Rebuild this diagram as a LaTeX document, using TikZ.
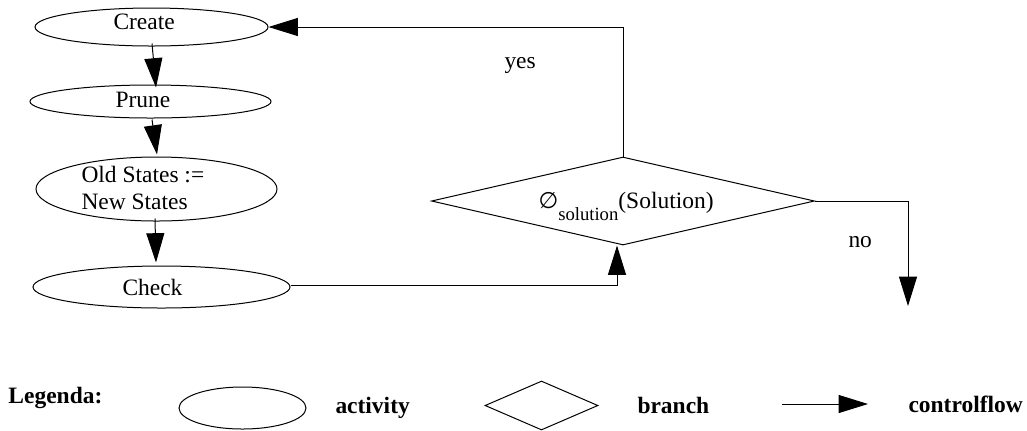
\documentclass[tikz,border=0pt]{standalone}
\usepackage{fontspec}
\setmainfont{Liberation Serif}
\newfontfamily\symfont{DejaVu Sans}
\usetikzlibrary{arrows.meta,shapes.geometric}
\begin{document}
\begin{tikzpicture}[x=0.75pt,y=-0.75pt,line width=0.75pt,
  act/.style={draw, ellipse, inner sep=0pt},
  br/.style={draw, diamond, inner sep=0pt},
  lbl/.style={anchor=base west, inner sep=0pt, font=\fontsize{17.6}{20}\selectfont},
  blbl/.style={anchor=base west, inner sep=0pt, font=\fontsize{17.6}{20}\selectfont\bfseries},
  flow/.style={-{Triangle[length=22pt,width=13.5pt]}},
]
\useasboundingbox (0,0) rectangle (1027,430);

% activities
\node[act, minimum width=174.75pt, minimum height=28.5pt] (create) at (151.5,27) {};
\node[act, minimum width=180.75pt, minimum height=24.75pt] (prune) at (150.5,101.5) {};
\node[act, minimum width=180.75pt, minimum height=48pt] (old) at (156.5,189) {};
\node[act, minimum width=192.75pt, minimum height=31.5pt] (check) at (161.5,287) {};
\node[br, minimum width=287.25pt, minimum height=66pt] (dia) at (623,201) {};

% texts
\node[lbl] (tcreate) at (113,29.5) {Create};
\node[lbl] (tprune) at (115,107.5) {Prune};
\node[lbl] (told1) at (81,182.5) {Old States :=};
\node[lbl] (told2) at (81,209) {New States};
\node[lbl] (tcheck) at (122,295) {Check};
\node[lbl] (tdia) at (538,208) {{\symfont\fontsize{17}{20}\selectfont ∅}\raisebox{-9pt}{\fontsize{14}{14}\selectfont solution}(Solution)};
\node[lbl] (tyes) at (504,68) {yes};
\node[lbl] (tno) at (848,247) {no};

% connectors
\draw[flow] ([shift={(0.5,-3)}]create.south) -- ([shift={(5.5,3)}]prune.north);
\draw[flow] ([shift={(1.5,1)}]prune.south) -- ([shift={(0.5,-2)}]old.north);
\draw[flow] ([shift={(-1.5,-3)}]old.south) -- ([shift={(-5.5,-3)}]check.north);
\draw[flow] ([shift={(0,-2)}]check.east) -| ([shift={(-6,0)}]dia.south);
\draw[flow] (dia.north) |- (create.east);
\coordinate (noend) at (908,306);
\draw[flow] (dia.east) -| (noend);

% legend
\node[blbl] (tleg) at (8,403) {Legenda:};
\node[act, minimum width=95.25pt, minimum height=31.5pt] (lact) at (242.5,408) {};
\node[blbl] (tact) at (335,413) {activity};
\node[br, minimum width=84.75pt, minimum height=36.75pt] (lbr) at (541.5,405.5) {};
\node[blbl] (tbr) at (637,413) {branch};
\coordinate (lfa) at (782,404);
\coordinate (lfb) at (868,404);
\draw[flow] (lfa) -- (lfb);
\node[blbl] (tcf) at (908,412) {controlflow};
\end{tikzpicture}
\end{document}
